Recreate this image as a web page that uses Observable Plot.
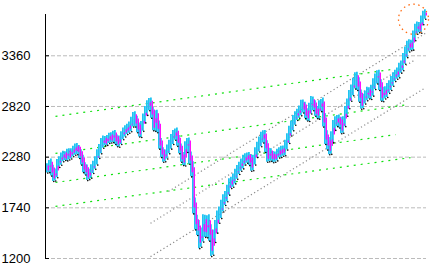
<!DOCTYPE html>
<html><head><meta charset="utf-8">
<script src="https://cdn.jsdelivr.net/npm/d3@7"></script>
<script src="https://cdn.jsdelivr.net/npm/@observablehq/plot@0.6"></script>
<style>
html,body{margin:0;padding:0;background:#fff;}
#chart svg{display:block;}
</style></head><body><div id="chart"></div>
<script>
// closing values, one per bar
const closes = [
  2160,2200,2138,2075,2105,2210,2244,2275,2298,2285,
  2320,2300,2330,2350,2370,2360,2310,2245,2170,2140,
  2085,2105,2150,2190,2245,2310,2370,2425,2455,2445,
  2470,2490,2480,2510,2470,2435,2455,2510,2545,2565,
  2585,2605,2650,2705,2660,2595,2545,2605,2690,2775,
  2830,2850,2755,2615,2715,2605,2425,2330,2275,2310,
  2360,2415,2470,2510,2530,2455,2370,2275,2245,2385,
  2425,2265,2140,1765,1585,1520,1390,1455,1585,1500,
  1575,1475,1305,1435,1540,1635,1690,1755,1820,1860,
  1925,2000,2010,2050,2095,2140,2180,2210,2245,2265,
  2275,2245,2190,2245,2330,2385,2445,2490,2500,2395,
  2285,2320,2285,2275,2285,2320,2330,2340,2350,2405,
  2480,2555,2615,2670,2715,2745,2775,2830,2810,2745,
  2715,2800,2865,2830,2765,2745,2820,2840,2670,2490,
  2425,2370,2490,2615,2660,2670,2650,2585,2660,2765,
  2850,2935,2990,3065,3120,3055,2935,2850,2895,2935,
  2970,2950,2990,3055,3110,3150,3045,2935,2960,2970,
  3010,3045,3085,3130,3160,3180,3225,3255,3330,3395,
  3460,3470,3470,3575,3640,3670,3650,3735,3790,3810
];
// extra high/low reach of each bar beyond its open/close
const reach = [
  50,45,60,55,50,45,40,50,45,40,
  45,50,40,45,50,55,45,50,55,50,
  55,45,50,45,40,50,45,55,50,45,
  40,45,50,45,55,45,50,40,45,50,
  45,50,55,50,60,55,50,55,50,45,
  50,55,60,55,60,65,60,55,50,45,
  50,45,50,55,50,60,55,50,55,60,
  55,60,70,90,80,75,85,70,80,75,
  80,90,85,70,65,70,60,65,60,55,
  55,50,55,50,55,50,45,50,55,50,
  50,55,60,55,50,55,50,55,60,65,
  60,55,50,55,50,45,50,55,50,55,
  50,55,50,55,50,45,50,55,60,55,
  50,55,60,55,50,55,60,55,70,75,
  70,65,60,55,50,55,60,55,50,55,
  50,55,60,55,60,65,70,60,55,50,
  55,50,55,60,55,50,55,60,65,60,
  55,50,55,50,45,50,55,50,55,60,
  55,60,55,50,55,50,45,50,45,40
];
const yTicks = [1200, 1740, 2280, 2820, 3360];
// trend lines: [start bar, start value, end bar, end value]
const greenLines = [
  [4, 2715, 172.5, 3215],
  [4, 2320, 180.5, 2840],
  [4, 2010, 174, 2520],
  [4, 1755, 181.5, 2275]
];
const grayLines = [
  [51.5, 1220, 189, 3020],
  [51.5, 1575, 184, 3320],
  [60.5, 1915, 189, 3600]
];
const highlight = [[183, 3750]];

const bars = closes.map((c, i) => {
  const o = i ? closes[i - 1] : c;
  return {i, o, c, hi: Math.max(o, c) + reach[i], lo: Math.min(o, c) - reach[i]};
});
const toSeg = a => a.map(([x1, y1, x2, y2]) => ({x1, y1, x2, y2}));

const chart = Plot.plot({
  width: 433, height: 272,
  marginLeft: 45, marginRight: 7, marginTop: 14, marginBottom: 14,
  style: {fontFamily: "'Liberation Sans Narrow','Liberation Sans',Arial,sans-serif", fontSize: "13px", background: "#fff"},
  x: {domain: [0, closes.length - 1], insetLeft: 2, insetRight: 1, axis: null},
  y: {domain: [1200, 3800], axis: null},
  marks: [
    Plot.ruleY(yTicks, {stroke: "#bbbbbb", strokeDasharray: "4,2"}),
    Plot.link(toSeg(grayLines), {x1: "x1", y1: "y1", x2: "x2", y2: "y2", stroke: "#8a8a8a", strokeWidth: 1.2, strokeDasharray: "1.2,2.6"}),
    Plot.link(toSeg(greenLines), {x1: "x1", y1: "y1", x2: "x2", y2: "y2", stroke: "#10e010", strokeWidth: 1.2, strokeDasharray: "2,5"}),
    Plot.ruleX(bars, {x: "i", y1: "lo", y2: "hi", stroke: "#1ec3f2", strokeWidth: 1.8, dx: -0.6}),
    Plot.ruleX(bars, {x: "i", y1: "o", y2: "c", stroke: "#ff00ff", strokeWidth: 1.3, dx: 0.8, insetTop: -2.5, insetBottom: -2.5}),
    Plot.dot(bars, {x: "i", y: "lo", r: 0.8, fill: "#000", stroke: "none", dx: 0.3}),
    Plot.dot(highlight, {x: d => d[0], y: d => d[1], r: 15, fill: "none", stroke: "#ff6a10", strokeWidth: 1.3, strokeDasharray: "1.5,3.5"}),
    Plot.ruleX([0], {stroke: "#000", dx: -2}),
    Plot.tickY(yTicks, {y: d => d, stroke: "#000", insetRight: 377}),
    Plot.axisY({ticks: yTicks, tickSize: 0, tickPadding: 15, fontSize: 13, tickFormat: d => String(d), fill: "#000"})
  ]
});
document.getElementById("chart").appendChild(chart);
</script>
</body></html>
